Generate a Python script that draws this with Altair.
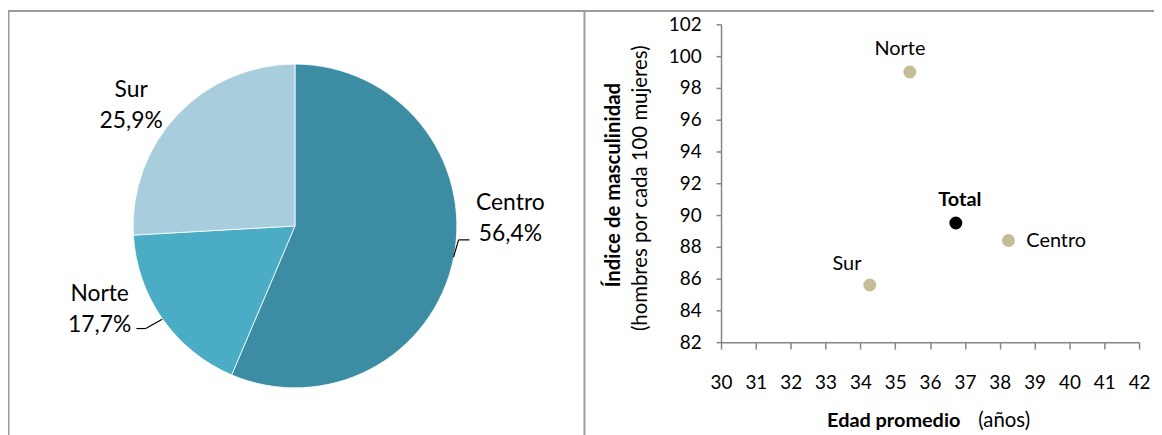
import altair as alt
import pandas as pd

# ---------------- data ----------------
pie_region = ["Centro", "Norte", "Sur"]
pie_pct = [56.4, 17.7, 25.9]

pt_region = ["Norte", "Sur", "Total", "Centro"]
pt_edad = [35.42, 34.27, 36.74, 38.25]
pt_indice = [99.0, 85.6, 89.5, 88.4]

x_ticks = [30, 31, 32, 33, 34, 35, 36, 37, 38, 39, 40, 41, 42]
y_ticks = [82, 84, 86, 88, 90, 92, 94, 96, 98, 100, 102]

pie_df = pd.DataFrame({"region": pie_region, "pct": pie_pct, "idx": list(range(len(pie_region)))})
pt_df = pd.DataFrame({"region": pt_region, "edad": pt_edad, "indice": pt_indice})
one_df = pd.DataFrame({"k": [0]})

# ---------------- layout helpers ----------------
FONT = "Lato"
OX, OY = 726, 23          # page position of scatter plot origin
W, H = 421, 320
PAD = {"left": OX - 8, "top": OY - 8, "right": 1162 - 8 - (OX - 8) - W, "bottom": 435 - 8 - (OY - 8) - H}


def px(x):
    return x - OX


def py(y):
    return y - OY


CX, CY, R = px(297), py(226), 163
GRAY = "#868686"
BORDER = "#9C9C9C"

# ---------------- pie ----------------
theta_scale = alt.Scale(domain=[0, 100])
pie_base = alt.Chart(pie_df)
arcs = pie_base.mark_arc(radius=R, stroke="white", strokeWidth=0.8).encode(
    theta=alt.Theta("pct:Q", stack=True, scale=theta_scale),
    order=alt.Order("idx:Q"),
    color=alt.Color("region:N",
                    scale=alt.Scale(domain=pie_region, range=["#3C8DA3", "#4BACC6", "#A8CEDD"]),
                    legend=None),
    x=alt.value(CX),
    y=alt.value(CY),
)

lab_base = pie_base.transform_window(
    cum="sum(pct)", sort=[alt.SortField("idx")], frame=[None, 0]
).transform_calculate(
    mid="datum.cum - datum.pct / 2",
    label="datum.region + '\\n' + replace(format(datum.pct, '.1f'), '.', ',') + '%'",
)

LR = 205


def pie_label(name, dx, dy):
    return lab_base.transform_filter(alt.datum.region == name).mark_text(
        radius=LR, dx=dx, dy=dy, fontSize=23, lineHeight=31, lineBreak="\n",
        font=FONT, align="center", baseline="middle", color="black",
    ).encode(
        theta=alt.Theta("mid:Q", scale=theta_scale),
        text="label:N",
        x=alt.value(CX),
        y=alt.value(CY),
    )


pie_labels = [pie_label("Centro", 16, -64), pie_label("Norte", -29, -49), pie_label("Sur", -16, 4)]

one = alt.Chart(one_df)


def seg(x1, y1, x2, y2, color="black", width=1.2):
    return one.mark_rule(color=color, strokeWidth=width).encode(
        x=alt.value(px(x1)), x2=alt.value(px(x2)), y=alt.value(py(y1)), y2=alt.value(py(y2))
    )


leaders = [
    seg(456.7, 257.3, 461.7, 240), seg(461.7, 240, 472.7, 240),
    seg(137.3, 329.3, 146.7, 329.3), seg(146.7, 329.3, 163.3, 320),
]

borders = [
    seg(7, 9.5, 1170, 9.5, BORDER, 2),
    seg(8.5, 9.5, 8.5, 450, BORDER, 2),
    seg(588.5, 9.5, 588.5, 450, BORDER, 2),
]

# ---------------- scatter ----------------
pts_base = alt.Chart(pt_df)
xs = alt.X("edad:Q", scale=alt.Scale(domain=[30, 42], nice=False, zero=False),
           axis=alt.Axis(values=x_ticks, title=None, grid=False, format="d", labelFlush=False,
                         labelOverlap=False, tickSize=7, labelPadding=25))
ys = alt.Y("indice:Q", scale=alt.Scale(domain=[82, 102], nice=False, zero=False),
           axis=alt.Axis(values=y_ticks, title=None, grid=False, format="d", labelFlush=False,
                         labelOverlap=False, tickSize=5, labelPadding=15))

points = pts_base.mark_circle(size=170, opacity=1).encode(
    x=xs, y=ys,
    color=alt.condition(alt.datum.region == "Total", alt.value("black"), alt.value("#C4BD97")),
)


def pt_label(name, dx, dy, align="center", bold=False):
    return pts_base.transform_filter(alt.datum.region == name).mark_text(
        dx=dx, dy=dy, align=align, baseline="middle", fontSize=20, font=FONT,
        fontWeight="bold" if bold else "normal", color="black",
    ).encode(x=xs, y=ys, text="region:N")


pt_labels = [
    pt_label("Norte", -10, -23),
    pt_label("Sur", -23, -21),
    pt_label("Total", 4, -23, bold=True),
    pt_label("Centro", 18, 1, align="left"),
]


def note(txt, x, y, size, bold=False, angle=0, align="center"):
    kw = {}
    if angle:
        kw["angle"] = angle
    return one.mark_text(
        fontSize=size, font=FONT, fontWeight="bold" if bold else "normal",
        align=align, baseline="middle", color="black", **kw
    ).encode(x=alt.value(px(x)), y=alt.value(py(y)), text=alt.value(txt))


titles = [
    note("Índice de masculinidad", 618, 185, 20.5, bold=True, angle=270),
    note("(hombres por cada 100 mujeres)", 645, 188, 20.5, angle=270),
    note("Edad promedio", 967, 422, 20, bold=True, align="right"),
    note("(años)", 985, 422, 20.5, align="left"),
]

chart = alt.layer(
    *borders, arcs, *pie_labels, *leaders, points, *pt_labels, *titles
).properties(
    width=W, height=H, padding=PAD, autosize=alt.AutoSizeParams(type="none"),
).configure_view(stroke=None).configure_axis(
    domainColor=GRAY, tickColor=GRAY, domainWidth=1.5, tickWidth=1.5,
    labelFont=FONT, labelFontSize=19, labelColor="black",
)

chart.save("out.html", embed_options={"renderer": "svg", "actions": False})
